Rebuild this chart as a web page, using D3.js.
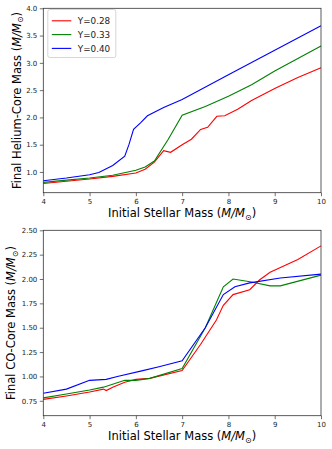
<!DOCTYPE html>
<html>
<head>
<meta charset="UTF-8">
<script src="https://d3js.org/d3.v7.min.js"></script>
<style>
  body { margin: 0; background: white; }
  svg { font-family: "DejaVu Sans", sans-serif; }
</style>
</head>
<body>
<svg id="chart" width="332" height="449"></svg>
<script>
// helium-core masses (top panel)
const heMass28 = [[4,0.79],[4.5,0.83],[5,0.87],[5.5,0.92],[6,0.98],[6.2,1.05],[6.4,1.18],[6.6,1.39],[6.75,1.36],[7,1.5],[7.2,1.6],[7.4,1.78],[7.55,1.82],[7.75,2.02],[7.92,2.03],[8.2,2.15],[8.5,2.31],[9,2.53],[9.5,2.73],[10,2.91]];
const heMass33 = [[4,0.81],[4.5,0.85],[5,0.89],[5.5,0.94],[6,1.03],[6.2,1.09],[6.4,1.2],[6.7,1.6],[7,2.04],[7.5,2.2],[8,2.39],[8.5,2.6],[9,2.85],[9.5,3.08],[10,3.31]];
const heMass40 = [[4,0.84],[4.5,0.89],[5,0.95],[5.2,0.99],[5.5,1.12],[5.76,1.29],[5.85,1.5],[5.95,1.78],[6.1,1.9],[6.25,2.03],[6.6,2.18],[7,2.33],[8,2.78],[9,3.23],[10,3.68]];

// CO-core masses (bottom panel)
const coMass28 = [[4,0.765],[4.5,0.8],[5,0.84],[5.3,0.87],[5.36,0.855],[5.5,0.89],[5.76,0.94],[6,0.97],[6.3,0.98],[7,1.06],[7.4,1.33],[7.74,1.58],[7.89,1.73],[8.1,1.84],[8.46,1.89],[8.67,1.99],[8.9,2.07],[9.5,2.2],[10,2.34]];
const coMass33 = [[4,0.78],[4.5,0.82],[5,0.86],[5.3,0.89],[5.76,0.96],[6,0.96],[6.3,0.98],[7,1.08],[7.5,1.5],[7.89,1.92],[8.1,2.0],[8.5,1.97],[8.9,1.93],[9.12,1.93],[10,2.04]];
const coMass40 = [[4,0.827],[4.5,0.87],[5,0.96],[5.36,0.97],[5.6,1.0],[6.15,1.06],[6.5,1.1],[7,1.16],[7.5,1.5],[7.89,1.84],[8.14,1.92],[8.46,1.96],[9.12,2.01],[10,2.05]];

const labels = ["Y=0.28", "Y=0.33", "Y=0.40"];
const colors = ["#ff0000", "#008000", "#0000ff"];
const xTicks = [4, 5, 6, 7, 8, 9, 10];
const heTicks = [1.0, 1.5, 2.0, 2.5, 3.0, 3.5, 4.0];
const coTicks = [0.75, 1.00, 1.25, 1.50, 1.75, 2.00, 2.25, 2.50];

const svg = d3.select("#chart");
const left = 43.3, right = 321;

function panel(top, bottom, yDomain, yTicks, yFmt, series, yName, labelX, legend) {
  const x = d3.scaleLinear().domain([4, 10]).range([left, right]);
  const y = d3.scaleLinear().domain(yDomain).range([bottom, top]);
  const g = svg.append("g");

  const line = d3.line().x(d => x(d[0])).y(d => y(d[1]));
  series.forEach((s, i) => {
    g.append("path").datum(s)
      .attr("fill", "none").attr("stroke", colors[i])
      .attr("stroke-width", 1.1).attr("d", line);
  });

  const xa = g.append("g").attr("transform", `translate(0,${bottom})`)
    .call(d3.axisBottom(x).tickValues(xTicks).tickFormat(d3.format("d")).tickSize(3.5).tickPadding(2.5));
  const ya = g.append("g").attr("transform", `translate(${left},0)`)
    .call(d3.axisLeft(y).tickValues(yTicks).tickFormat(d3.format(yFmt)).tickSize(3.5).tickPadding(2.5));
  [xa, ya].forEach(a => {
    a.select(".domain").remove();
    a.selectAll("text").attr("font-size", 7).attr("fill", "#222").attr("font-family", "DejaVu Sans");
    a.selectAll("line").attr("stroke", "#333").attr("stroke-width", 0.7);
  });

  g.append("rect").attr("x", left).attr("y", top)
    .attr("width", right - left).attr("height", bottom - top)
    .attr("fill", "none").attr("stroke", "#333").attr("stroke-width", 0.8);

  // x label
  const xl = g.append("text").attr("x", (left + right) / 2).attr("y", bottom + 24.5)
    .attr("text-anchor", "middle").attr("font-size", 11.5);
  massUnit(xl, "Initial Stellar Mass ");

  const yl = g.append("text")
    .attr("transform", `translate(${labelX},${(top + bottom) / 2}) rotate(-90)`)
    .attr("text-anchor", "middle").attr("font-size", 11.5);
  massUnit(yl, yName);

  if (legend) {
    const lg = g.append("g").attr("transform", `translate(${left + 4.5},${top + 1.2})`);
    lg.append("rect").attr("width", 68).attr("height", 48).attr("rx", 2)
      .attr("fill", "white").attr("stroke", "#ccc").attr("stroke-width", 0.8);
    labels.forEach((l, i) => {
      const yy = 11.3 + i * 13.8;
      lg.append("line").attr("x1", 4).attr("x2", 23.5).attr("y1", yy).attr("y2", yy)
        .attr("stroke", colors[i]).attr("stroke-width", 1.1);
      lg.append("text").attr("x", 30).attr("y", yy + 3.2).attr("font-size", 8.8)
        .attr("fill", "#222").text(l);
    });
  }
}

function massUnit(t, prefix) {
  t.append("tspan").text(prefix + "(");
  t.append("tspan").attr("font-style", "italic").text("M/M");
  t.append("tspan").attr("font-size", 8).attr("dy", 2.5).text("\u2299");
  t.append("tspan").attr("dy", -2.5).text(")");
}

panel(8.3, 192.7, [0.62, 4.0], heTicks, ".1f", [heMass28, heMass33, heMass40], "Final Helium-Core Mass ", 20.5, true);
panel(230.3, 415.7, [0.597, 2.5], coTicks, ".2f", [coMass28, coMass33, coMass40], "Final CO-Core Mass ", 15, false);
</script>
</body>
</html>
